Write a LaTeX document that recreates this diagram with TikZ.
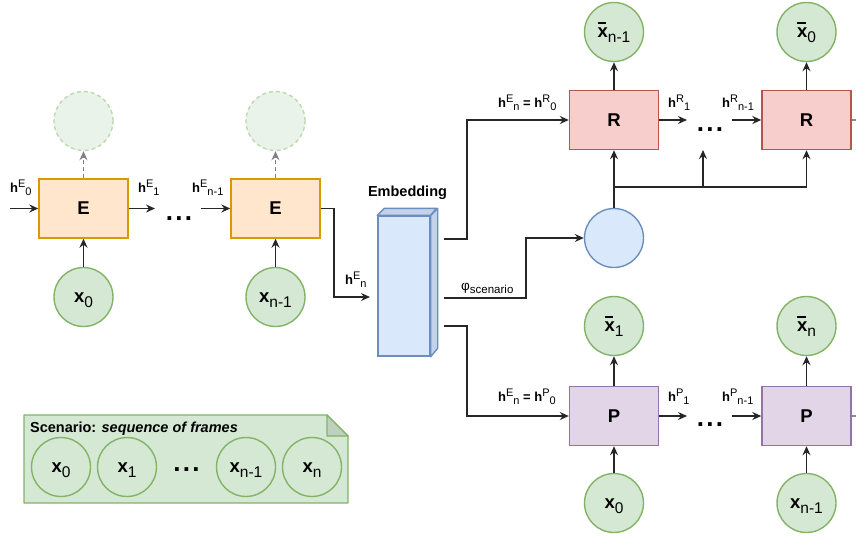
\documentclass[tikz,border=0pt]{standalone}
\usepackage{fontspec}
\setmainfont{Liberation Sans}
\usetikzlibrary{arrows.meta}
\definecolor{ofill}{HTML}{FFE6CC}\definecolor{odraw}{HTML}{D79B00}
\definecolor{gfill}{HTML}{D5E8D4}\definecolor{gdraw}{HTML}{82B366}
\definecolor{rfill}{HTML}{F8CECC}\definecolor{rdraw}{HTML}{B85450}
\definecolor{pfill}{HTML}{E1D5E7}\definecolor{pdraw}{HTML}{9673A6}
\definecolor{bfill}{HTML}{DAE8FC}\definecolor{bdraw}{HTML}{6C8EBF}
\definecolor{bside}{HTML}{C3D3EC}
\definecolor{dfill}{HTML}{EAF3E9}\definecolor{ddraw}{HTML}{BFD8B2}
\definecolor{foldc}{HTML}{BFD0BE}
\newcommand\fs[1]{\fontsize{#1}{#1}\selectfont}
\newcommand\hlab[2]{\fs{13}\textbf{h}\raisebox{4.5pt}{\fs{11}#1}\raisebox{-3.5pt}{\fs{11}#2}}
\newcommand\xs[1]{\raisebox{-5pt}[0pt][0pt]{\fs{18.5}\textbf{x}\raisebox{-5pt}{\fs{15.5}#1}}}
\newcommand\xbs[1]{\raisebox{-5pt}[0pt][0pt]{\fs{18.5}\rlap{\hspace{0.3pt}\rule[13pt]{8.5pt}{1.8pt}}\textbf{x}\raisebox{-5pt}{\fs{15.5}#1}}}
\newcommand\tdots{.\kern2.2pt.\kern2.2pt.}
\begin{document}
\begin{tikzpicture}[x=1pt,y=-1pt,
  box/.style={draw, line width=1.4pt, minimum width=89pt, minimum height=59pt, inner sep=0pt, font=\fs{18.5}\bfseries},
  ebox/.style={box, fill=ofill, draw=odraw},
  rbox/.style={box, fill=rfill, draw=rdraw},
  pbox/.style={box, fill=pfill, draw=pdraw},
  circ/.style={circle, draw=gdraw, fill=gfill, line width=1.4pt, minimum size=59pt, inner sep=0pt},
  dcirc/.style={circle, draw=ddraw, fill=dfill, line width=1.4pt, dash pattern=on 4pt off 3pt, minimum size=59pt, inner sep=0pt},
  bcirc/.style={circle, draw=bdraw, fill=bfill, line width=1.4pt, minimum size=59pt, inner sep=0pt},
  arr/.style={-{Stealth[length=9pt,width=8pt,inset=3pt]}, line width=1.5pt, draw=black!85},
  darr/.style={-{Stealth[length=9pt,width=8pt,inset=3pt]}, line width=1.4pt, draw=black!50, dash pattern=on 4pt off 3pt},
  stub/.style={line width=1.1pt, draw=black!45},
  hl/.style={anchor=base west, inner sep=0pt},
  dots/.style={anchor=base, inner sep=0pt, font=\fs{26}\bfseries},
]
\useasboundingbox (0,0) rectangle (856,536);

% ---------- Encoder ----------
\node[ebox] (E1) at (83.5,208.5) {E};
\node[ebox] (E2) at (275.5,208.5) {E};
\node[dcirc] (D1) at (83.5,121) {};
\node[dcirc] (D2) at (275.5,121) {};
\node[circ] (X1) at (83.5,297) {\xs{0}};
\node[circ] (X2) at (275.5,297) {\xs{n-1}};
\coordinate (ein) at (10,208.5);
\coordinate (eo1) at (155,208.5);
\coordinate (ei2) at (201,208.5);
\draw[arr] (ein) -- (E1.west);
\draw[arr] (E1.east) -- (eo1);
\draw[arr] (ei2) -- (E2.west);
\draw[darr] (E1.north) -- (D1.south);
\draw[darr] (E2.north) -- (D2.south);
\draw[arr] (X1.north) -- (E1.south);
\draw[arr] (X2.north) -- (E2.south);
\node[hl] (lE0) at (10,192) {\hlab{E}{0}};
\node[hl] (lE1) at (138,192) {\hlab{E}{1}};
\node[hl] (lEn1) at (192,192) {\hlab{E}{n-1}};
\node[dots] (dE) at (179,220) {\tdots};

% ---------- Embedding ----------
\node[draw=bdraw, fill=bfill, line width=1.4pt, minimum width=52pt, minimum height=140pt, inner sep=0pt] (EMB) at (404,286) {};
\draw[draw=bdraw, fill=bside, line width=1.4pt, line join=round] (EMB.north west) -- ++(7,-7) -- ++(52,0) -- (EMB.north east) -- cycle;
\draw[draw=bdraw, fill=bside, line width=1.4pt, line join=round] (EMB.north east) -- ++(7,-7) -- ++(0,140) -- (EMB.south east) -- cycle;
\node[anchor=base, inner sep=0pt, font=\fs{14.5}\bfseries] (lEmb) at (407.5,196) {Embedding};
\coordinate (embin) at (370,297);
\draw[arr] (E2.east) -- ++(13.5,0) |- (embin);
\node[hl] (lEn) at (345,284) {\hlab{E}{n}};

% ---------- Reconstruction ----------
\node[rbox] (R1) at (614,120) {R};
\node[rbox] (R2) at (806.5,120) {R};
\node[circ] (XB1) at (614,32) {\xbs{n-1}};
\node[circ] (XB2) at (806.5,32) {\xbs{0}};
\draw[arr] (R1.north) -- (XB1.south);
\draw[arr] (R2.north) -- (XB2.south);
\coordinate (ro1) at (687,120);
\coordinate (ri2) at (732,120);
\draw[arr] (R1.east) -- (ro1);
\draw[arr] (ri2) -- (R2.west);
\coordinate (rstub) at (856,120);
\draw[stub] (R2.east) -- (rstub);
\node[hl] (lR0) at (498,107) {\hlab{E}{n}\fs{13}\textbf{ = }\hlab{R}{0}};
\node[hl] (lR1) at (668,107) {\hlab{R}{1}};
\node[hl] (lRn1) at (722,107) {\hlab{R}{n-1}};
\node[dots] (dR) at (710,131) {\tdots};

% ---------- scenario vector ----------
\node[bcirc] (B) at (614,238) {};
\coordinate (eo_a) at (444,239);
\coordinate (eo_b) at (444,298);
\coordinate (eo_c) at (444,326);
\draw[arr] (eo_a) -- (467,239) |- (R1.west);
\draw[arr] (eo_b) -- (526,298) |- (B.west);
\node[anchor=base west, inner sep=0pt, font=\fs{13.5}] (lphi) at (461,290.5) {φ\raisebox{-2.5pt}{\fs{11.5}scenario}};
\draw[arr] (B.north) -- (R1.south);
\coordinate (br1) at (614,187);
\coordinate (br2) at (703,187);
\coordinate (br2t) at (703,150);
\draw[arr] (br1) -| (R2.south);
\draw[arr] (br2) -- (br2t);

% ---------- Prediction ----------
\node[pbox] (P1) at (614,416) {P};
\node[pbox] (P2) at (806.5,416) {P};
\node[circ] (XP1) at (614,326) {\xbs{1}};
\node[circ] (XP2) at (806.5,326) {\xbs{n}};
\node[circ] (XQ1) at (614,503) {\xs{0}};
\node[circ] (XQ2) at (806.5,503) {\xs{n-1}};
\draw[arr] (P1.north) -- (XP1.south);
\draw[arr] (P2.north) -- (XP2.south);
\draw[arr] (XQ1.north) -- (P1.south);
\draw[arr] (XQ2.north) -- (P2.south);
\coordinate (po1) at (687,416);
\coordinate (pi2) at (732,416);
\draw[arr] (P1.east) -- (po1);
\draw[arr] (pi2) -- (P2.west);
\coordinate (pstub) at (856,416);
\draw[stub] (P2.east) -- (pstub);
\draw[arr] (eo_c) -- (467,326) |- (P1.west);
\node[hl] (lP0) at (498,401) {\hlab{E}{n}\fs{13}\textbf{ = }\hlab{P}{0}};
\node[hl] (lP1) at (668,401) {\hlab{P}{1}};
\node[hl] (lPn1) at (722,401) {\hlab{P}{n-1}};
\node[dots] (dP) at (710,426) {\tdots};

% ---------- Scenario note ----------
\draw[draw=gdraw, fill=gfill, line width=1.4pt, line join=round] (24,415) -- (327,415) -- (348,436) -- (348,503) -- (24,503) -- cycle;
\draw[draw=gdraw, fill=foldc, line width=1.4pt, line join=round] (327,415) -- (327,436) -- (348,436) -- cycle;
\node[anchor=base west, inner sep=0pt, font=\fs{14.5}\bfseries] (lScen) at (30,432) {Scenario: \textit{sequence of frames}};
\node[circ] (S0) at (61,467) {\xs{0}};
\node[circ] (S1) at (127,467) {\xs{1}};
\node[dots] (dS) at (186.5,471.5) {\tdots};
\node[circ] (S3) at (246,467) {\xs{n-1}};
\node[circ] (S4) at (312,467) {\xs{n}};
\end{tikzpicture}
\end{document}
